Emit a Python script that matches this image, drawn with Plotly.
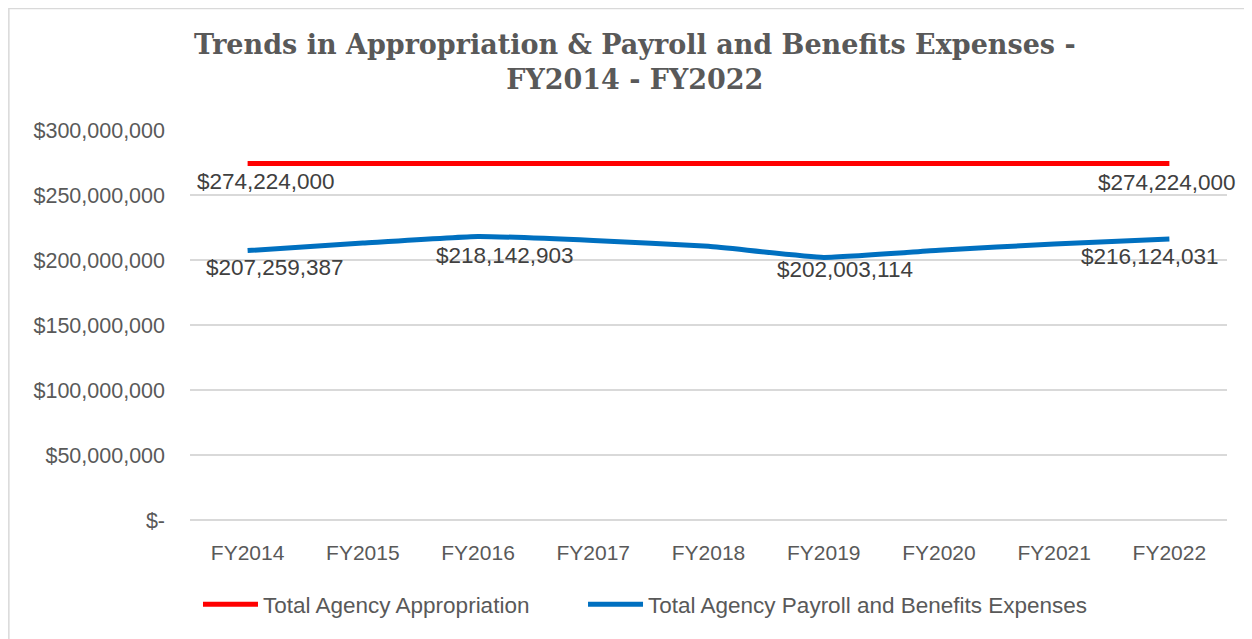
import plotly.graph_objects as go

years = ["FY2014", "FY2015", "FY2016", "FY2017", "FY2018", "FY2019", "FY2020", "FY2021", "FY2022"]
appropriation = [274224000] * 9
payroll = [207259387, 213000000, 218142903, 215000000, 210500000, 202003114, 207500000, 212300000, 216124031]
approp_labeled = [0, 8]
payroll_labeled = [0, 2, 5, 8]
y_ticks = [0, 50000000, 100000000, 150000000, 200000000, 250000000, 300000000]
y_ticktext = ["$-", "$50,000,000", "$100,000,000", "$150,000,000", "$200,000,000", "$250,000,000", "$300,000,000"]
title_text = "Trends in Appropriation & Payroll and Benefits Expenses -<br>FY2014 - FY2022"

# label offsets (px) relative to their points: (dx, dy)
approp_offsets = [(18, -18), (-2, -19)]
payroll_offsets = [(27, -17), (27, -19), (21, -12), (-19, -17)]


def money(v):
    return "${:,.0f}".format(v)


fig = go.Figure()
fig.add_trace(go.Scatter(
    x=years, y=appropriation, name="Total Agency Appropriation",
    mode="lines", line=dict(color="#FF0000", width=5), legend="legend",
))
fig.add_trace(go.Scatter(
    x=years, y=payroll, name="Total Agency Payroll and Benefits Expenses",
    mode="lines", line=dict(color="#0070C0", width=5, shape="spline", smoothing=0.4),
    legend="legend2",
))

annotations = [dict(
    text="<b>" + title_text + "</b>", xref="paper", yref="paper",
    x=0.4291, y=1.174, xanchor="center", yanchor="middle", showarrow=False,
    font=dict(family="DejaVu Serif, serif", size=27, color="#595959"),
)]
for idx, (dx, dy) in zip(approp_labeled, approp_offsets):
    annotations.append(dict(x=years[idx], y=appropriation[idx], text=money(appropriation[idx]),
                            showarrow=False, xshift=dx, yshift=dy, xanchor="center", yanchor="middle",
                            font=dict(size=22.5, color="#404040")))
for idx, (dx, dy) in zip(payroll_labeled, payroll_offsets):
    annotations.append(dict(x=years[idx], y=payroll[idx], text=money(payroll[idx]),
                            showarrow=False, xshift=dx, yshift=dy, xanchor="center", yanchor="middle",
                            font=dict(size=22.5, color="#404040")))

legend_style = dict(orientation="h", xanchor="left", y=-0.162, yanchor="top", itemwidth=55,
                    font=dict(size=22.5, color="#595959"), bgcolor="rgba(0,0,0,0)")

fig.update_layout(
    width=1252, height=639,
    paper_bgcolor="white", plot_bgcolor="white",
    margin=dict(l=182, r=33, t=122, b=127, autoexpand=False),
    font=dict(family="Liberation Sans, Arial, sans-serif", color="#595959"),
    showlegend=True,
    legend=dict(x=0.0077, **legend_style),
    legend2=dict(x=0.379, **legend_style),
    annotations=annotations,
    shapes=[dict(type="rect", xref="paper", yref="paper", x0=-0.1747, x1=1.2, y0=-0.6, y1=1.3115,
                 line=dict(color="#D9D9D9", width=1.5))],
)
fig.update_xaxes(type="category", range=[-0.5, 8.5], showgrid=False, showline=False,
                 ticks="", tickfont=dict(size=21, color="#595959"), ticklabelstandoff=18)
fig.update_yaxes(range=[0, 300000000], tickvals=y_ticks, ticktext=y_ticktext,
                 showgrid=True, gridcolor="#D9D9D9", gridwidth=1.5, zeroline=True,
                 zerolinecolor="#D9D9D9", zerolinewidth=1.5,
                 tickfont=dict(size=21.5, color="#595959"), ticks="", ticklabelstandoff=24)

fig.write_html("out.html")
